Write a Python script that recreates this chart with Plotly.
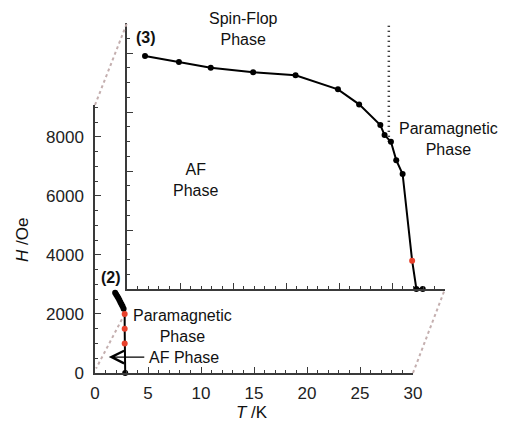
import plotly.graph_objects as go

W, H = 510, 423

# ---------------- data ----------------
# compound (2): low-field boundary, main axes
T2 = [1.9, 2.0, 2.1, 2.2, 2.3, 2.4, 2.5, 2.6, 2.7, 2.8, 2.8, 2.8, 2.85]
H2 = [2720, 2660, 2600, 2540, 2470, 2400, 2330, 2260, 2180, 2000, 1500, 1000, 0]
C2 = ["k"] * 9 + ["r", "r", "r"] + ["k"]

# compound (3): offset panel
T3 = [1.7, 4.9, 7.9, 11.9, 15.9, 19.9, 21.9, 23.9, 24.3, 24.9, 25.4, 26.0, 26.9, 27.3, 27.9]
H3 = [7900, 7700, 7500, 7350, 7250, 6770, 6260, 5560, 5220, 4990, 4370, 3900, 960, 0, 0]
C3 = ["k"] * 12 + ["r"] + ["k", "k"]

# dotted boundary line in panel (3)
T3_dot = [24.7, 24.7]
H3_dot = [4990, 9200]

# dashed guide in panel (2)
T2_guide = [2.8, 0.1]
H2_guide = [2000, 150]

x_ticks = [0, 5, 10, 15, 20, 25, 30]
y_ticks = [0, 2000, 4000, 6000, 8000]

RED = "#e8412c"
COLMAP = {"k": "black", "r": RED}
FONT = "Liberation Sans, Arial, Helvetica, sans-serif"
AX = "#3a3a3a"
GUIDE = "#c4afaf"


def X(px):
    return px / W


def Y(py):
    return 1 - py / H


main_x = [X(95), X(413)]
main_y = [Y(373), Y(105)]
ins_x = [X(127), X(445)]
ins_y = [Y(289), Y(23)]

fig = go.Figure()

# guide lines
fig.add_trace(go.Scatter(x=T2_guide, y=H2_guide, mode="lines",
                         line=dict(color=GUIDE, width=2, dash="3px,3px"),
                         xaxis="x", yaxis="y", hoverinfo="skip"))
fig.add_trace(go.Scatter(x=T3_dot, y=H3_dot, mode="lines",
                         line=dict(color="black", width=2.5, dash="1px,4px"),
                         xaxis="x2", yaxis="y2", hoverinfo="skip"))

# (2) data
fig.add_trace(go.Scatter(x=T2, y=H2, mode="lines+markers",
                         line=dict(color="black", width=2),
                         marker=dict(size=6, color=[COLMAP[c] for c in C2]),
                         cliponaxis=False, xaxis="x", yaxis="y"))
# (3) data
fig.add_trace(go.Scatter(x=T3, y=H3, mode="lines+markers",
                         line=dict(color="black", width=2),
                         marker=dict(size=6, color=[COLMAP[c] for c in C3]),
                         cliponaxis=False, xaxis="x2", yaxis="y2"))

common = dict(showline=True, linecolor=AX, linewidth=1.5, showgrid=False,
              zeroline=False, ticks="inside", ticklen=6, tickwidth=1.2, tickcolor=AX,
              automargin=False,
              tickfont=dict(family=FONT, size=17, color="#222"))

fig.update_layout(
    width=W, height=H, autosize=False,
    margin=dict(l=0, r=0, t=0, b=0, pad=0, autoexpand=False),
    paper_bgcolor="white", plot_bgcolor="rgba(0,0,0,0)",
    showlegend=False,
    xaxis=dict(domain=main_x, range=[0, 30], tickvals=x_ticks, anchor="y",
               minor=dict(ticks="inside", dtick=1, ticklen=3, tickcolor=AX),
               ticklabelstandoff=4, **common),
    yaxis=dict(domain=main_y, range=[0, 9080], tickvals=y_ticks, anchor="x",
               minor=dict(ticks="inside", dtick=500, ticklen=3, tickcolor=AX),
               ticklabelstandoff=6, **common),
    xaxis2=dict(domain=ins_x, range=[0, 30], tickvals=x_ticks, anchor="y2",
                showticklabels=False,
                minor=dict(ticks="inside", dtick=1, ticklen=3, tickcolor=AX), **common),
    yaxis2=dict(domain=ins_y, range=[0, 9020], tickvals=y_ticks, anchor="x2",
                showticklabels=False,
                minor=dict(ticks="inside", dtick=500, ticklen=3, tickcolor=AX), **common),
)

# connectors between the two frames
fig.add_shape(type="line", xref="paper", yref="paper",
              x0=main_x[0], y0=main_y[1], x1=ins_x[0], y1=ins_y[1],
              line=dict(color=GUIDE, width=2, dash="3px,3px"))
fig.add_shape(type="line", xref="paper", yref="paper",
              x0=main_x[1], y0=main_y[0], x1=ins_x[1], y1=ins_y[0],
              line=dict(color=GUIDE, width=2, dash="3px,3px"))


def txt(text, px, py, size=16, xanchor="center", **kw):
    fig.add_annotation(text=text, x=X(px), y=Y(py), xref="paper", yref="paper",
                       showarrow=False, xanchor=xanchor, yanchor="middle",
                       font=dict(family=FONT, size=size, color="#111"), **kw)


txt("Spin-Flop<br>Phase", 243, 29)
txt("AF<br>Phase", 195, 180)
txt("Paramagnetic<br>Phase", 448, 139)
txt("<b>(3)</b>", 146, 37)
txt("<b>(2)</b>", 111, 277)
txt("Paramagnetic<br>Phase", 182, 326)
txt("AF Phase", 147, 357, xanchor="left")
txt("<i>H</i> /Oe", 22, 240, size=17, textangle=-90)
txt("<i>T</i> /K", 252, 412, size=17)

# arrow to the AF phase of (2)
fig.add_annotation(x=1.3, y=540, xref="x", yref="y", ax=37, ay=0, text="",
                   showarrow=True, arrowhead=5, arrowsize=1.9, arrowwidth=1.3,
                   arrowcolor="black")

fig.write_html("out.html",
               config={"displayModeBar": False},
               post_script="document.body.style.margin='0';"
                           "document.body.style.overflow='hidden';")
